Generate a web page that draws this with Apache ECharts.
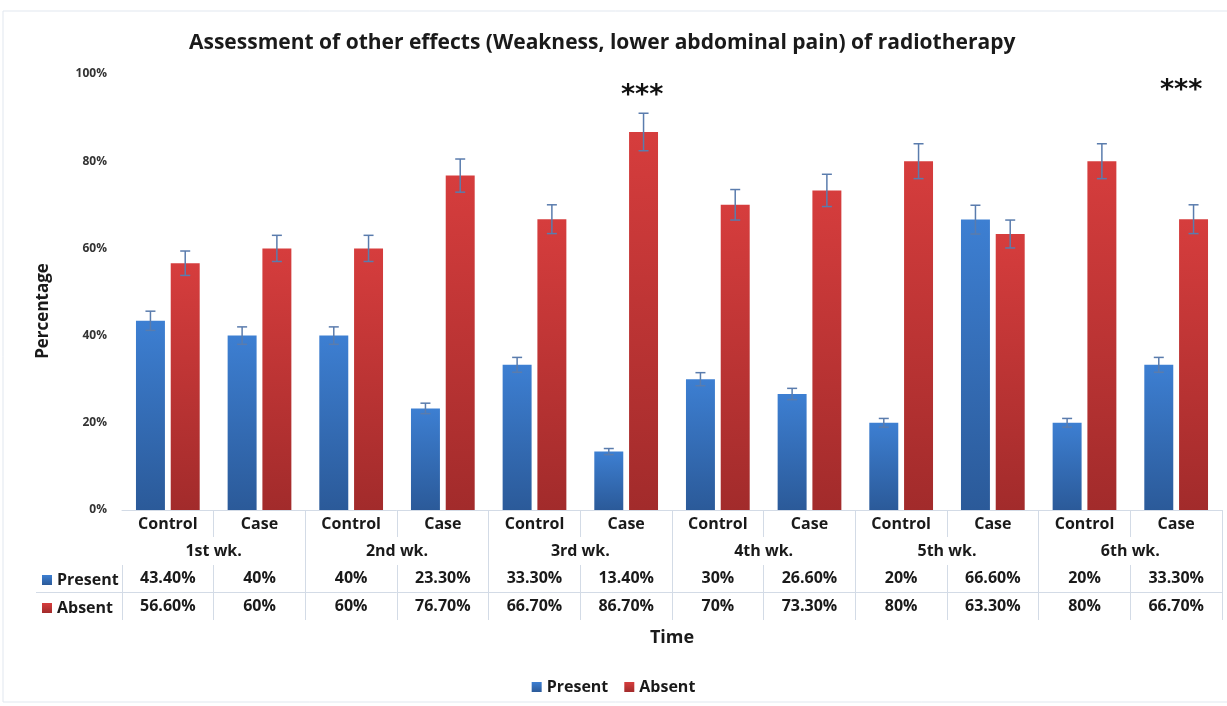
<!DOCTYPE html>
<html>
<head>
<meta charset="UTF-8">
<script src="https://cdn.jsdelivr.net/npm/echarts@6/dist/echarts.min.js"></script>
<style>
  html, body { margin: 0; padding: 0; width: 100%; height: 100%; background: #fff; }
  #main { width: 1227px; height: 706px; }
</style>
</head>
<body>
<div id="main"></div>
<script>
const groups = ['Control', 'Case', 'Control', 'Case', 'Control', 'Case',
                'Control', 'Case', 'Control', 'Case', 'Control', 'Case'];
const weeks = ['1st wk.', '2nd wk.', '3rd wk.', '4th wk.', '5th wk.', '6th wk.'];
const present = [43.4, 40, 40, 23.3, 33.3, 13.4, 30, 26.6, 20, 66.6, 20, 33.3];
const absent = [56.6, 60, 60, 76.7, 66.7, 86.7, 70, 73.3, 80, 63.3, 80, 66.7];
// error bar half-lengths (percentage points)
const presentErr = [2.2, 2.0, 2.0, 1.2, 1.7, 0.7, 1.5, 1.3, 1.0, 3.3, 1.0, 1.7];
const absentErr = [2.8, 3.0, 3.0, 3.8, 3.3, 4.3, 3.5, 3.7, 4.0, 3.2, 4.0, 3.3];
// significance marks: [category index, y value, text]
const stars = [[5, 95, '***'], [11, 96, '***']];
const starDx = [16, 5]; // horizontal nudge in px

const FONT = '"Open Sans", "Liberation Sans", sans-serif';
const fmt = v => (Number.isInteger(v) ? v : v.toFixed(2)) + '%';
const BAR_W = 0.316, GAP = 0.2;

const chart = echarts.init(document.getElementById('main'));

function errSeries(values, errs, side) {
  return {
    type: 'custom',
    z: 5,
    silent: true,
    data: values.map((v, i) => [i, v, errs[i]]),
    renderItem: (params, api) => {
      const band = api.size([1, 0])[0];
      const off = side * band * (BAR_W + BAR_W * GAP) / 2;
      const i = api.value(0), v = api.value(1), e = api.value(2);
      const top = api.coord([i, v + e]);
      const bot = api.coord([i, v - e]);
      const x = top[0] + off;
      const style = { stroke: '#5a7cad', lineWidth: 1.5 };
      return {
        type: 'group',
        children: [
          { type: 'line', shape: { x1: x, y1: top[1], x2: x, y2: bot[1] }, style },
          { type: 'line', shape: { x1: x - 5, y1: top[1], x2: x + 5, y2: top[1] }, style },
          { type: 'line', shape: { x1: x - 5, y1: bot[1], x2: x + 5, y2: bot[1] }, style }
        ]
      };
    }
  };
}

const grad = (a, b) => new echarts.graphic.LinearGradient(0, 0, 0, 1, [
  { offset: 0, color: a }, { offset: 1, color: b }
]);

const lineCol = '#d3dbe6';
const txt = { fontFamily: FONT, fontWeight: 'bold', fontSize: 16, color: '#1a1a1a' };

chart.setOption({
  animation: false,
  title: {
    text: 'Assessment of other effects (Weakness, lower abdominal pain) of radiotherapy',
    left: 184,
    top: 28,
    textStyle: { fontFamily: FONT, fontWeight: 'bold', fontSize: 21, color: '#1a1a1a' }
  },
  legend: [
    {
      data: ['Present', 'Absent'],
      bottom: 6,
      left: 'center',
      itemWidth: 10, itemHeight: 10, itemGap: 16,
      icon: 'rect',
      textStyle: txt,
      selectedMode: false
    },
    {
      data: ['Present', 'Absent'],
      orient: 'vertical',
      left: 37,
      top: 567,
      itemWidth: 10, itemHeight: 10, itemGap: 12,
      icon: 'rect',
      textStyle: Object.assign({ lineHeight: 16 }, txt),
      selectedMode: false
    }
  ],
  graphic: [
    {
      type: 'rect', silent: true,
      shape: { x: 3, y: 11, width: 1240, height: 691 },
      style: { fill: 'none', stroke: '#e1e7ef', lineWidth: 1 }
    },
    {
      type: 'line', silent: true,
      shape: { x1: 36, y1: 592.5, x2: 122, y2: 592.5 },
      style: { stroke: lineCol, lineWidth: 1 }
    }
  ],
  grid: { left: 122, right: 5, top: 74, bottom: 196 },
  xAxis: [
    {
      type: 'category', data: groups, position: 'bottom',
      axisLine: { lineStyle: { color: lineCol, width: 1 } },
      axisTick: { show: true, interval: i => i !== 0, length: 27, lineStyle: { color: lineCol, width: 1 } },
      axisLabel: Object.assign({ margin: 6, interval: 0 }, txt),
      name: 'Time', nameLocation: 'middle', nameGap: 119,
      nameTextStyle: { fontFamily: FONT, fontWeight: 'bold', fontSize: 18, color: '#1a1a1a' }
    },
    {
      type: 'category', data: weeks, position: 'bottom',
      axisLine: { show: false },
      axisTick: { show: true, interval: i => i !== 0, length: 110, lineStyle: { color: lineCol, width: 1 } },
      axisLabel: Object.assign({ margin: 33, interval: 0 }, txt)
    },
    {
      type: 'category', data: present.map(fmt), position: 'bottom', offset: 55,
      axisLine: { show: false },
      axisTick: { show: true, interval: 0, length: 55, lineStyle: { color: lineCol, width: 1 } },
      axisLabel: Object.assign({ margin: 5, interval: 0 }, txt)
    },
    {
      type: 'category', data: absent.map(fmt), position: 'bottom', offset: 82,
      axisLine: { show: true, lineStyle: { color: lineCol, width: 1 } },
      axisTick: { show: false },
      axisLabel: Object.assign({ margin: 6, interval: 0 }, txt)
    }
  ],
  yAxis: {
    type: 'value', min: 0, max: 100, interval: 20,
    axisLine: { show: false },
    axisTick: { show: false },
    splitLine: { show: false },
    axisLabel: {
      formatter: '{value}%', margin: 15,
      fontFamily: FONT, fontWeight: 'bold', fontSize: 12, color: '#333'
    },
    name: 'Percentage', nameLocation: 'middle', nameGap: 70, nameRotate: 90,
    nameTextStyle: {
      fontFamily: FONT, fontWeight: 'bold', fontSize: 17, color: '#1a1a1a',
      padding: [0, 38, 0, 0]
    }
  },
  series: [
    {
      name: 'Present', type: 'bar', data: present,
      barWidth: (BAR_W * 100) + '%', barGap: (GAP * 100) + '%',
      itemStyle: { color: grad('#3d7fd2', '#2b5a99') }
    },
    {
      name: 'Absent', type: 'bar', data: absent,
      barWidth: (BAR_W * 100) + '%',
      itemStyle: { color: grad('#d63d3d', '#a22b2b') }
    },
    errSeries(present, presentErr, -1),
    errSeries(absent, absentErr, 1),
    {
      type: 'custom', z: 6, silent: true,
      data: stars,
      renderItem: (params, api) => {
        const p = api.coord([api.value(0), api.value(1)]);
        return {
          type: 'text',
          style: {
            x: p[0] + starDx[params.dataIndex], y: p[1], text: stars[params.dataIndex][2],
            align: 'center', verticalAlign: 'middle',
            font: 'bold 27px "DejaVu Sans", sans-serif', fill: '#111'
          }
        };
      }
    }
  ]
});
</script>
</body>
</html>
